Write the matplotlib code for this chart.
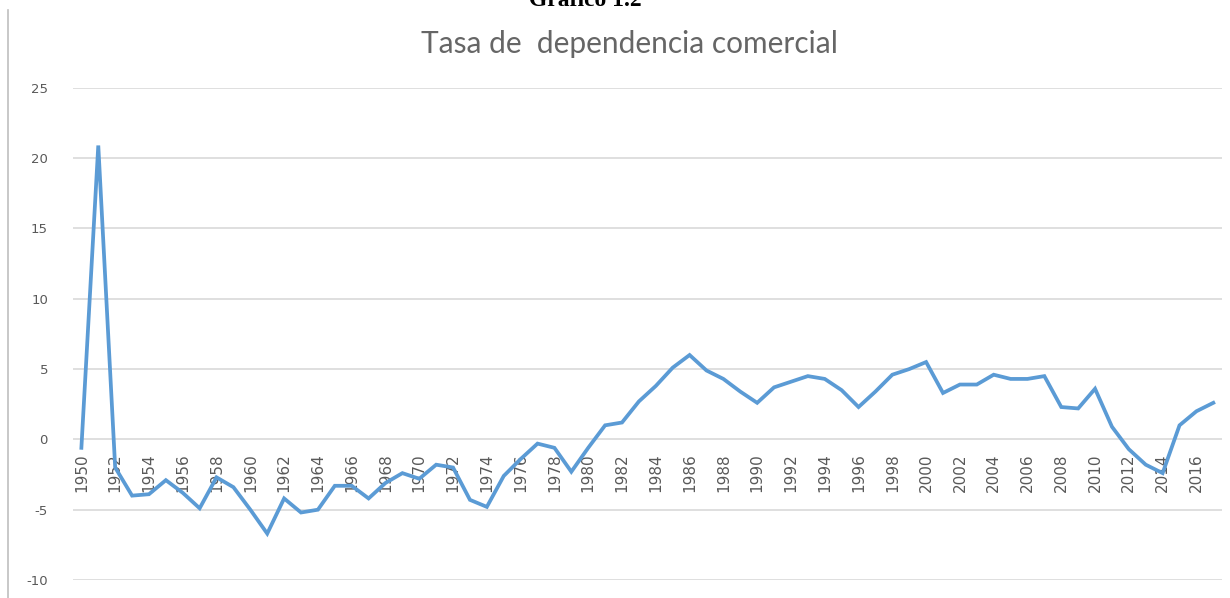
import matplotlib.pyplot as plt
from matplotlib.lines import Line2D

plt.rcParams['axes.unicode_minus'] = False

years = list(range(1950, 2018))
tasa = [-0.6, 20.9, -2.0, -4.0, -3.9, -2.9, -3.8, -4.9, -2.7, -3.4,
        -5.0, -6.7, -4.2, -5.2, -5.0, -3.3, -3.3, -4.2, -3.1, -2.4,
        -2.8, -1.8, -2.0, -4.3, -4.8, -2.6, -1.4, -0.3, -0.6, -2.3,
        -0.6, 1.0, 1.2, 2.7, 3.8, 5.1, 6.0, 4.9, 4.3, 3.4,
        2.6, 3.7, 4.1, 4.5, 4.3, 3.5, 2.3, 3.4, 4.6, 5.0,
        5.5, 3.3, 3.9, 3.9, 4.6, 4.3, 4.3, 4.5, 2.3, 2.2,
        3.6, 0.9, -0.7, -1.8, -2.4, 1.0, 2.0, 2.6]
tick_years = list(range(1950, 2018, 2))
y_ticks = [-10, -5, 0, 5, 10, 15, 20, 25]

gray = '#595959'

fig = plt.figure(figsize=(12.3, 5.98), dpi=100)
ax = fig.add_axes([0.0593, 0.0301, 0.934, 0.823])

ax.plot(years, tasa, color='#5b9bd5', linewidth=2.7, solid_joinstyle='miter', zorder=3)

ax.set_xlim(1949.5, 2017.5)
ax.set_ylim(-10, 25)
ax.set_yticks(y_ticks)
ax.set_xticks(tick_years)
ax.set_xticklabels([str(y) for y in tick_years])
ax.grid(axis='y', color='#d9d9d9', linewidth=1.2, zorder=0)

for s in ['top', 'right', 'left']:
    ax.spines[s].set_visible(False)
ax.spines['bottom'].set_position(('data', 0))
ax.spines['bottom'].set_visible(False)

ax.tick_params(axis='x', length=0, pad=10, labelsize=11, labelcolor=gray, labelrotation=90)
ax.tick_params(axis='y', length=0, pad=18, labelsize=9.5, labelcolor=gray)
for lab in ax.get_xticklabels():
    lab.set_va('top')
    lab.set_ha('center')

fig.text(0.512, 0.927, 'Tasa de  dependencia comercial', ha='center', va='center',
         fontsize=21.5, color='#666666', family='Lato')
fig.text(0.476, 0.99, 'Gráfico 1.2', ha='center', va='baseline',
         fontsize=17, fontweight='bold', family='Liberation Serif', color='black')

fig.add_artist(Line2D([8 / 1230, 8 / 1230], [0, 1 - 10 / 598],
                      color='#bfbfbf', linewidth=1.2, transform=fig.transFigure))

fig.savefig('out.png', dpi=100)
